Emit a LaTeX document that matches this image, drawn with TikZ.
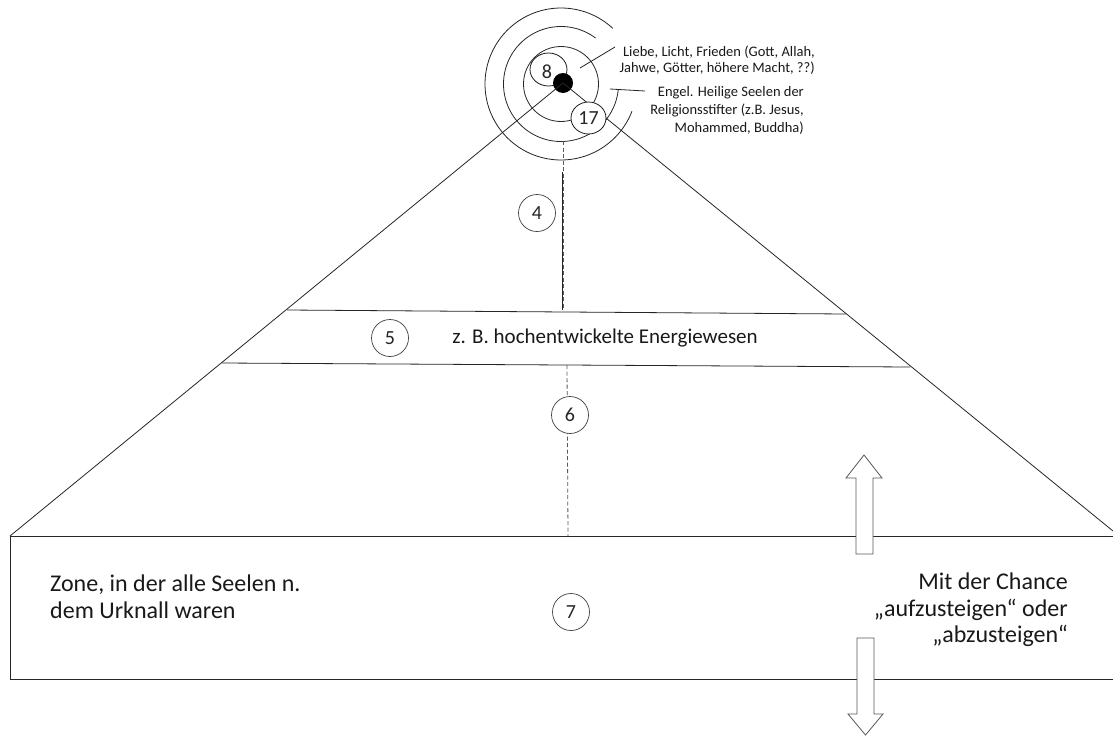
\documentclass[tikz,border=0pt]{standalone}
\usepackage{fontspec}
\setmainfont{Carlito}
\usetikzlibrary{shapes.geometric}
\begin{document}
\begin{tikzpicture}[x=1pt,y=-1pt,
  ln/.style={draw=black!85, line width=0.8pt},
  numc/.style={circle, draw=black!75, fill=white, line width=0.7pt, minimum size=37pt, inner sep=0pt, text=black!85, font=\fontsize{20}{20}\selectfont},
  numel/.style={ellipse, draw=black!90, fill=white, line width=0.8pt, inner sep=0pt, text=black!85, font=\fontsize{20}{20}\selectfont},
  lbl/.style={align=right, inner sep=0pt, text=black!90, font=\fontsize{14.5}{16}\selectfont},
  bigtxt/.style={inner sep=0pt, text=black!90, font=\fontsize{24}{26.5}\selectfont},
  fatarrow/.style={draw=black!65, fill=white, line width=0.8pt, line join=miter},
  dsh/.style={draw=black!65, dash pattern=on 4pt off 2.5pt, line width=0.8pt}
]
\useasboundingbox (0,0) rectangle (1113,736);
\fill[white] (0,0) rectangle (1113,736);

% coordinates
\coordinate (BL) at (10,536);
\coordinate (BR) at (1113,536);
\coordinate (BLb) at (10,679);
\coordinate (BRb) at (1113,679);
\coordinate (PR) at (1113,531);
\coordinate (T1L) at (287,310);
\coordinate (T1R) at (846,314);
\coordinate (T2L) at (222,363);
\coordinate (T2R) at (910,367);
\coordinate (RC) at (561,84);
\coordinate (V1) at (563,141);
\coordinate (V2) at (563,310);
\coordinate (S1) at (562,172);
\coordinate (S2) at (562,310);
\coordinate (V3) at (567,365);
\coordinate (V4) at (568,536);
\coordinate (L1a) at (580,68);
\coordinate (L1b) at (615,47);
\coordinate (L2a) at (610,89);
\coordinate (L2b) at (645,91);

% box
\draw[ln] (BR) -- (BL) -- (BLb) -- (BRb);
% band lines
\draw[ln] (T1L) -- (T1R);
\draw[ln] (T2L) -- (T2R);

% rings
\draw[ln] (RC) circle[radius=37.5pt];
\draw[ln] plot[domain=53:355,samples=150] ({561+57.5*cos(\x)},{84-57.5*sin(\x)});
\draw[ln] plot[domain=47:339,samples=150] ({561+76*cos(\x)},{84-76*sin(\x)});

% vertical lines
\draw[dsh] (V1) -- (V2);
\draw[ln] (S1) -- (S2);
\draw[dsh] (V3) -- (V4);

% label leader lines
\draw[ln] (L1a) -- (L1b);
\draw[ln] (L2a) -- (L2b);

% top nodes
\node[numel, minimum width=37pt, minimum height=33pt] (e8) at (548.5,69.5) {};
\node[text=black!85, font=\fontsize{20}{20}\selectfont, inner sep=0pt] (n8) at (547,72) {8};
\node[circle, fill=black, minimum size=20pt, inner sep=0pt] (dot) at (563,83) {};
\draw[ln] (dot.center) -- (BL);
\draw[ln] (dot.center) -- (PR);
\node[numel, minimum width=35pt, minimum height=32pt] (e17) at (588.5,118) {17};

% number circles
\node[numc] (c4) at (537,213) {4};
\node[numc] (c5) at (390,338) {5};
\node[numc] (c6) at (570,415) {6};
\node[numc] (c7) at (571,612) {7};

% arrows
\draw[fatarrow] (856,554) -- (856,478) -- (846,478) -- (864,455) -- (882,478) -- (873,478) -- (873,554) -- cycle;
\draw[fatarrow] (857,638) -- (874,638) -- (874,714) -- (883,714) -- (865.5,735) -- (848,714) -- (857,714) -- cycle;

% texts
\node[lbl, anchor=east] (liebe) at (815,60.5) {Liebe, Licht, Frieden (Gott, Allah,\\Jahwe, Götter, höhere Macht, ??)};
\node[lbl, anchor=east, font=\fontsize{14.5}{18}\selectfont] (engel) at (804,110) {Engel. Heilige Seelen der\\Religionsstifter (z.B. Jesus,\\Mohammed, Buddha)};
\node[inner sep=0pt, text=black!90, font=\fontsize{21}{21}\selectfont] (band) at (605,338) {z. B. hochentwickelte Energiewesen};
\node[bigtxt, align=left, anchor=west] (zone) at (50,596.5) {Zone, in der alle Seelen n.\\dem Urknall waren};
\node[bigtxt, align=right, anchor=east] (chance) at (1068,610) {Mit der Chance\\„aufzusteigen“ oder\\„abzusteigen“};
\end{tikzpicture}
\end{document}
